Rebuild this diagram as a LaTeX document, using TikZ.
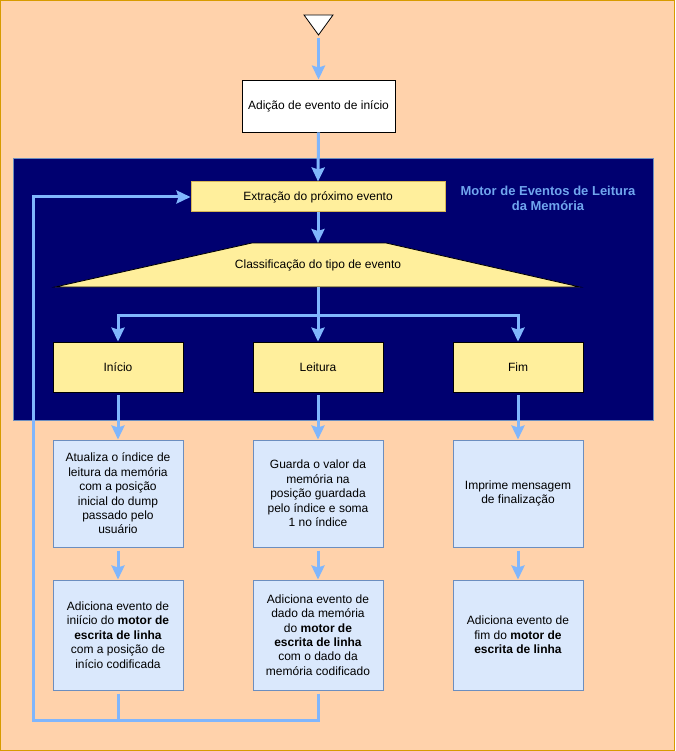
\documentclass[tikz,border=0pt]{standalone}
\usepackage{fontspec}
\setmainfont{Liberation Sans}
\usetikzlibrary{arrows.meta}
\definecolor{bgc}{HTML}{FFD2AB}
\definecolor{bord}{HTML}{D79B00}
\definecolor{navy}{HTML}{000070}
\definecolor{cbord}{HTML}{6C8EBF}
\definecolor{yel}{HTML}{FFEF9C}
\definecolor{yelb}{HTML}{D6B656}
\definecolor{lblue}{HTML}{DAE8FC}
\definecolor{arr}{HTML}{80B6FC}
\definecolor{titlec}{HTML}{70A6EE}
\begin{document}
\begin{tikzpicture}[x=1pt,y=-1pt,font=\fontsize{12}{14.4}\selectfont,
  conn/.style={draw=arr,line width=3pt},
  arrow/.style={conn,-{Stealth[length=14pt,width=13pt,inset=2pt]}},
  ybox/.style={draw=black,fill=yel,line width=0.8pt,minimum width=130pt,minimum height=50pt,inner sep=0pt,align=center},
  bbox/.style={draw=cbord,fill=lblue,line width=1pt,minimum width=130pt,inner sep=0pt,align=center}]
\useasboundingbox (0,0) rectangle (675,751);
\draw[draw=bord,fill=bgc,line width=1pt] (0.5,0.5) rectangle (674.5,750.5);
% start triangle
\draw[fill=white,line width=0.8pt] (304,15) -- (333,15) -- (318.5,35) -- cycle;
\coordinate (st) at (318.5,38);
\node[draw=black,fill=white,line width=0.8pt,minimum width=153pt,minimum height=52pt,inner sep=0pt] (add) at (318.5,106) {Adição de evento de início};
% container
\node[draw=cbord,fill=navy,line width=1pt,minimum width=640pt,minimum height=262pt,inner sep=0pt,anchor=north west] (motor) at (13,158) {};
\node[text=titlec,font=\fontsize{13}{15}\selectfont\bfseries,align=center] (title) at (548,198) {Motor de Eventos de Leitura\\da Memória};
\node[draw=yelb,fill=yel,line width=1pt,minimum width=254pt,minimum height=30pt,inner sep=0pt] (ext) at (318,197) {Extração do próximo evento};
% classification trapezoid
\draw[fill=yel,draw=black,line width=0.8pt] (252,243) -- (386,243) -- (580,287) -- (55,287) -- cycle;
\node (cls) at (318,265.5) {Classificação do tipo de evento};
\coordinate (clstop) at (318,243);
\coordinate (clsbot) at (318,287);
\coordinate (split) at (318,315);
% type boxes
\node[ybox] (ini) at (118,367) {Início};
\node[ybox] (lei) at (318,367) {Leitura};
\node[ybox] (fim) at (518,367) {Fim};
% second row
\node[bbox,minimum height=107pt] (a1) at (118,493.5) {Atualiza o índice de\\leitura da memória\\com a posição\\inicial do dump\\passado pelo\\usuário};
\node[bbox,minimum height=107pt] (a2) at (318,493.5) {Guarda o valor da\\memória na\\posição guardada\\pelo índice e soma\\1 no índice};
\node[bbox,minimum height=107pt] (a3) at (518,493.5) {Imprime mensagem\\de finalização};
% third row
\node[bbox,minimum height=110pt] (b1) at (118,635) {Adiciona evento de\\iniício do \textbf{motor de}\\\textbf{escrita de linha}\\com a posição de\\início codificada};
\node[bbox,minimum height=110pt] (b2) at (318,635) {Adiciona evento de\\dado da memória\\do \textbf{motor de}\\\textbf{escrita de linha}\\com o dado da\\memória codificado};
\node[bbox,minimum height=110pt] (b3) at (518,635) {Adiciona evento de\\fim do \textbf{motor de}\\\textbf{escrita de linha}};
\coordinate (lp) at (33,720);
% connectors
\draw[arrow] (st) -- (add.north);
\draw[arrow] (add.south) -- (ext.north);
\draw[arrow] (ext.south) -- (clstop);
\draw[arrow] (clsbot) -- (lei.north);
\draw[arrow] (split) -| (ini.north);
\draw[arrow] (split) -| (fim.north);
\draw[arrow,shorten <=3pt] (ini.south) -- (a1.north);
\draw[arrow,shorten <=3pt] (lei.south) -- (a2.north);
\draw[arrow,shorten <=3pt] (fim.south) -- (a3.north);
\draw[arrow,shorten <=3pt] (a1.south) -- (b1.north);
\draw[arrow,shorten <=3pt] (a2.south) -- (b2.north);
\draw[arrow,shorten <=3pt] (a3.south) -- (b3.north);
\draw[conn,shorten <=3pt] (b1.south) -- (b1.south |- lp);
\draw[arrow,shorten <=3pt] (b2.south) |- (lp) |- (ext.west);
\end{tikzpicture}
\end{document}
